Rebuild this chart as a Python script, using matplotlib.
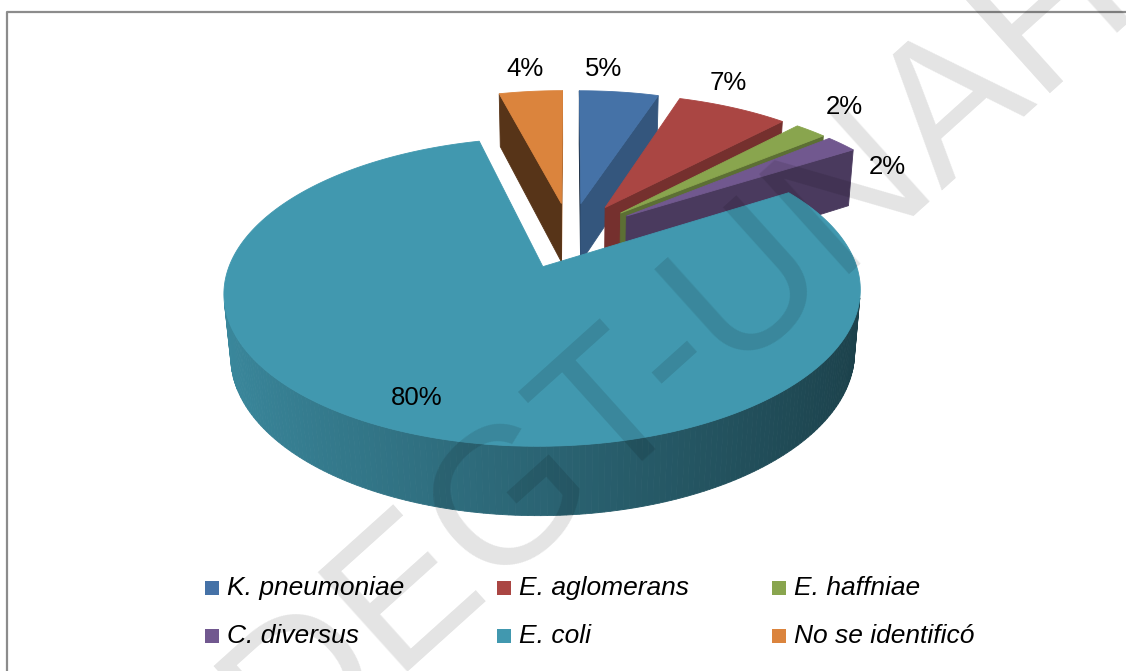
import numpy as np
import matplotlib.pyplot as plt
from matplotlib.patches import Polygon, Rectangle
from matplotlib.colors import to_rgb

plt.rcParams['font.family'] = ['Liberation Sans', 'DejaVu Sans']

# data
labels = ['K. pneumoniae', 'E. aglomerans', 'E. haffniae', 'C. diversus', 'E. coli', 'No se identificó']
values = [5, 7, 2, 2, 80, 4]
pct_labels = ['5%', '7%', '2%', '2%', '80%', '4%']
colors = ['#4572A7', '#AA4643', '#89A54E', '#71588F', '#4198AF', '#DB843D']

# label placement (angle clockwise from top in deg, radius) relative to each slice
label_pos = [(4.7, 1.23), (24.8, 1.22), (44.4, 1.27), (67.8, 1.02), (204.0, 0.84), (352.8, 1.24)]

W, H = 1126, 671
fig = plt.figure(figsize=(W / 100, H / 100), dpi=100)
ax = fig.add_axes([0, 0, 1, 1])
ax.set_xlim(0, W)
ax.set_ylim(H, 0)
ax.axis('off')

# 3d view settings (pixels)
cx, cy = 570, 235
S = 303
D = 5.6
phi = np.radians(27.5)
thick = 0.228
explode = 0.235
cam = np.array([0.0, -D * np.cos(phi), D * np.sin(phi)])


def project(u, v, h):
    z = D + v * np.cos(phi) - h * np.sin(phi)
    yc = v * np.sin(phi) + h * np.cos(phi)
    return cx + S * u * D / z, cy - S * yc * D / z, z


def shade(col, k):
    r, g, b = to_rgb(col)
    return (r * k, g * k, b * k)


def rim_k(theta):
    # outer side gets darker to the right
    return 0.66 - 0.24 * np.sin(np.radians(theta))


def cut_k(nang):
    nang = nang % 360
    return float(np.clip(0.75 - (nang - 108) * 0.0024, 0.35, 0.85))


sides = []
tops = []
start = 0.0
for i, val in enumerate(values):
    a0 = start
    a1 = start + val * 3.6
    start = a1
    mid = np.radians((a0 + a1) / 2)
    ou, ov = explode * np.sin(mid), explode * np.cos(mid)
    n = max(int((a1 - a0) / 1.0), 2)
    th = np.linspace(a0, a1, n + 1)
    tr = np.radians(th)
    ru = ou + np.sin(tr)
    rv = ov + np.cos(tr)

    # top face
    px, py, _ = project(np.r_[ou, ru], np.r_[ov, rv], np.zeros(n + 2))
    tops.append((np.c_[px, py], colors[i]))

    # outer curved side
    for k in range(n):
        tm = np.radians((th[k] + th[k + 1]) / 2)
        nrm = np.array([np.sin(tm), np.cos(tm), 0.0])
        pm = np.array([ou + np.sin(tm), ov + np.cos(tm), -thick / 2])
        if np.dot(nrm, cam - pm) <= 0:
            continue
        uu = [ru[k], ru[k + 1], ru[k + 1], ru[k]]
        vv = [rv[k], rv[k + 1], rv[k + 1], rv[k]]
        hh = [0, 0, -thick, -thick]
        qx, qy, qz = project(np.array(uu), np.array(vv), np.array(hh))
        sides.append((qz.mean(), np.c_[qx, qy], shade(colors[i], rim_k(np.degrees(tm)))))

    # flat cut faces
    for ang, nang in ((a0, a0 - 90), (a1, a1 + 90)):
        ar, nr = np.radians(ang), np.radians(nang)
        nrm = np.array([np.sin(nr), np.cos(nr), 0.0])
        eu, ev = ou + np.sin(ar), ov + np.cos(ar)
        pm = np.array([(ou + eu) / 2, (ov + ev) / 2, -thick / 2])
        if np.dot(nrm, cam - pm) <= 0:
            continue
        qx, qy, qz = project(np.array([ou, eu, eu, ou]), np.array([ov, ev, ev, ov]),
                             np.array([0, 0, -thick, -thick]))
        sides.append((qz.mean(), np.c_[qx, qy], shade(colors[i], cut_k(nang))))

    # percentage label
    la, lr = label_pos[i]
    lu = ou + lr * np.sin(np.radians(la))
    lv = ov + lr * np.cos(np.radians(la))
    lx, ly, _ = project(lu, lv, 0.0)
    ax.text(lx, ly, pct_labels[i], fontsize=18.5, ha='center', va='center', zorder=10)

for z, pts, c in sorted(sides, key=lambda s: -s[0]):
    ax.add_patch(Polygon(pts, closed=True, facecolor=c, edgecolor=c, lw=0.6, zorder=2))
for pts, c in tops:
    ax.add_patch(Polygon(pts, closed=True, facecolor=c, edgecolor=c, lw=0.6, zorder=3))

# legend laid out in 2 rows x 3 columns
col_x = [205, 497, 772]
row_y = [588, 636]
for i, lab in enumerate(labels):
    x = col_x[i % 3]
    y = row_y[i // 3]
    ax.add_patch(Rectangle((x, y - 7), 14, 14, facecolor=colors[i], edgecolor='none', zorder=5))
    ax.text(x + 22, y, lab, fontsize=19, fontstyle='italic', ha='left', va='center', zorder=5)

# chart frame
ax.plot([7, 7, W + 5], [H + 5, 12, 12], color='#8C8C8C', lw=1.6, zorder=1, clip_on=False)

# watermark
ax.text(680, 345, 'DEGT-UNAH', fontsize=140, rotation=42, ha='center', va='center',
        color=(0, 0, 0, 0.11), zorder=20, clip_on=True)

fig.savefig('out.png', dpi=100)
